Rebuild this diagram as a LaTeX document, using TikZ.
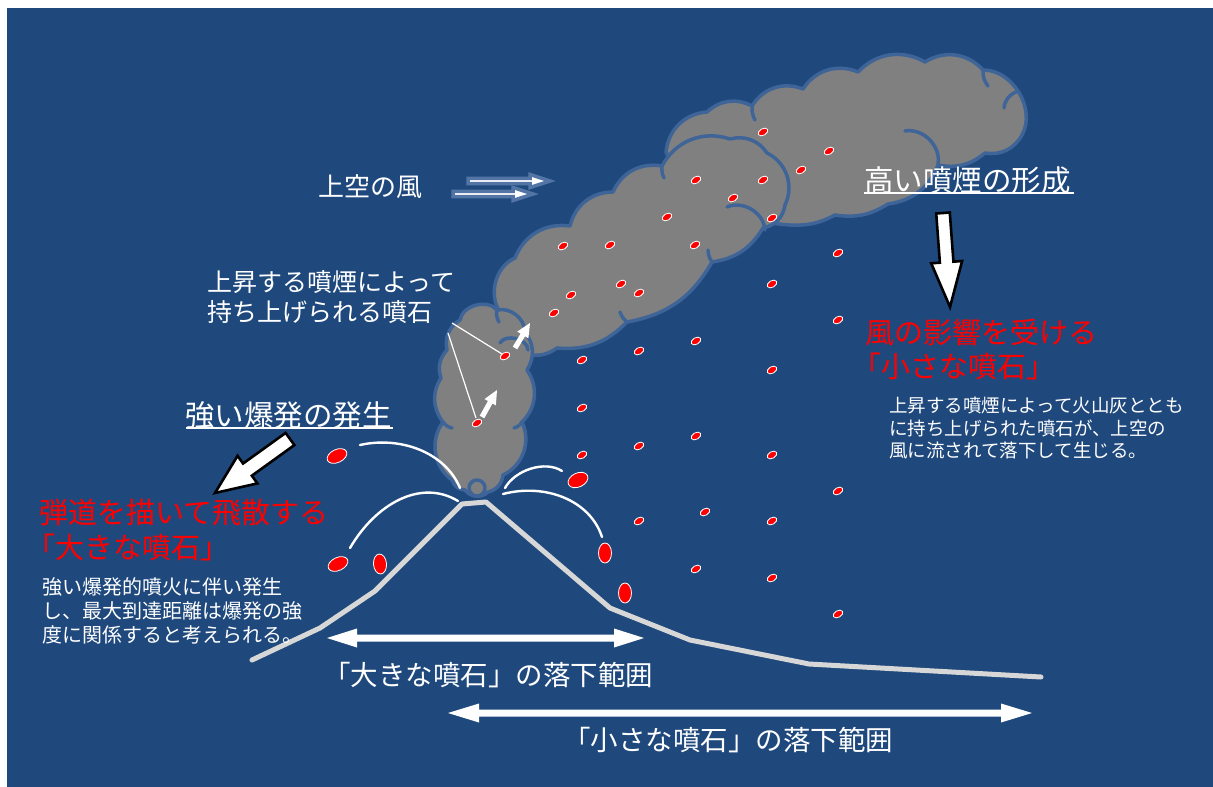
\documentclass[tikz,border=0pt]{standalone}
\usepackage{fontspec}
\newfontfamily\jp{Noto Sans CJK JP}
\usetikzlibrary{arrows.meta}
\definecolor{bgblue}{RGB}{31,73,125}
\definecolor{cloudgray}{RGB}{128,128,128}
\definecolor{cloudline}{RGB}{62,100,152}
\definecolor{slopegray}{RGB}{215,215,215}
\definecolor{windedge}{RGB}{82,117,166}
\definecolor{rockred}{RGB}{255,0,0}
\newcommand\jpsize[2]{\fontsize{#1}{#2}\selectfont}
% block arrow: style, tail point, angle, length, shaft half width, head half width, head length
\newcommand\blockarrow[7]{%
  \path[#1, shift={#2}, rotate=#3]
    (0,#5) -- ({#4-#7},#5) -- ({#4-#7},#6) -- (#4,0) -- ({#4-#7},-#6)
    -- ({#4-#7},-#5) -- (0,-#5) -- cycle;}
\begin{document}
\begin{tikzpicture}[x=1pt,y=-1pt,
  txt/.style={inner sep=0pt, text=white, anchor=west, align=left},
  redtxt/.style={txt, text=rockred},
  cloud/.style={fill=cloudgray, draw=cloudline, line width=3.5pt, line join=round},
  cloudarc/.style={draw=cloudline, line width=3.5pt, line cap=round},
  rock/.style={fill=rockred, draw=white, line width=0.8pt},
  trail/.style={draw=white, line width=2.4pt, line cap=round},
  leader/.style={draw=white, line width=1.2pt},
  slope/.style={draw=slopegray, line width=5pt, line cap=round, line join=round},
  bigarrow/.style={fill=white, draw=black, line width=2.6pt, line join=miter},
  liftarrow/.style={fill=white},
  windarrow/.style={fill=white, draw=windedge, line width=3.5pt, line join=miter},
  rangearrow/.style={fill=white}]
\useasboundingbox (0,0) rectangle (1213,787);
\fill[white] (0,0) rectangle (1213,787);
\fill[bgblue] (7,8) rectangle (1213,787);

% ---- upper plume (rear) ----
\path[cloud] (666,152) to[bend left=40] (707,112) to[bend left=35] (752,106)
  to[bend left=40] (803,89) to[bend left=40] (858,72) to[bend left=38] (925,62)
  to[bend left=40] (983,70) to[bend left=60] (1022,135) to[bend left=35] (985,153)
  to[bend left=25] (938,165) to[bend left=30] (888,204) to[bend left=20] (835,215)
  to[bend left=15] (790,225) to[bend left=15] (730,205) to[bend left=25] (666,152) -- cycle;
\path[cloudarc] (905,131) to[bend left=55] (938,164);
\path[cloudarc] (983,70) to[bend right=20] (988,86);
\path[cloudarc] (1004,108) to[bend left=30] (1016,92);
\path[cloudarc] (752,106) to[bend right=15] (755,120);

% ---- middle plume ----
\path[cloud] (503,316) to[bend left=55] (515,258) to[bend left=38] (570,226)
  to[bend left=38] (613,192) to[bend left=38] (662,166) to[bend left=40] (730,139)
  to[bend left=35] (767,153) to[bend left=45] (785,205) to[bend left=35] (763,228)
  to[bend left=25] (712,262) to[bend left=25] (627,322) to[bend left=25] (557,348)
  to[bend left=20] (530,355) to[bend left=40] (503,316) -- cycle;
\path[cloudarc] (727,207) to[bend left=55] (765,230);
\path[cloudarc] (662,166) to[bend right=15] (664,178);
\path[cloudarc] (712,262) to[bend left=15] (708,250);
\path[cloudarc] (627,322) to[bend left=15] (620,312);

% ---- rising column ----
\path[cloud] (447,350) to[bend left=35] (460,320) to[bend left=65] (497,310)
  to[bend left=50] (525,332) to[bend left=35] (527,370) to[bend left=40] (522,422)
  to[bend left=45] (503,475) to[bend left=35] (488,492) to[bend left=50] (465,490)
  to[bend left=35] (452,480) to[bend left=45] (443,422) to[bend left=35] (441,378)
  to[bend left=30] (447,350) -- cycle;
\path[cloudarc] (500,343) to[bend left=75] (528,350);
\path[cloudarc] (497,310) to[bend right=20] (499,322);
\path[cloudarc] (443,422) to[bend right=20] (452,428);
\path[cloudarc] (522,422) to[bend left=20] (514,428);
\path[cloud] (477,488) circle [radius=8];

% ---- lifted small ejecta ----
\foreach \p in {(763,132),(829,151),(801,170),(696,180),(763,180),(733,198),
  (667,217),(772,218),(563,246),(610,245),(695,245),(838,253),(772,284),
  (621,284),(639,293),(571,295),(554,313),(505,356),(582,360),(639,351),
  (696,341),(772,370),(838,320),(582,408),(696,436),(639,446),(582,455),
  (772,455),(838,491),(705,512),(639,521),(772,521),(696,569),(772,578),
  (838,614),(477,423)}
  \path[rock, shift={\p}, rotate=30] (0,0) ellipse [x radius=5.2, y radius=3.3];

% ---- ballistic blocks ----
\path[rock, shift={(337,456)}, rotate=25] (0,0) ellipse [x radius=10.5, y radius=6.5];
\path[rock, shift={(338,564)}, rotate=25] (0,0) ellipse [x radius=10.5, y radius=6.5];
\path[rock, shift={(380,564)}, rotate=5] (0,0) ellipse [x radius=6.5, y radius=10];
\path[rock, shift={(578,480)}, rotate=25] (0,0) ellipse [x radius=10.5, y radius=7];
\path[rock, shift={(605,553)}] (0,0) ellipse [x radius=6.5, y radius=10];
\path[rock, shift={(625,593)}] (0,0) ellipse [x radius=6.5, y radius=10];

% ---- trajectories ----
\path[trail] (360,445) .. controls (400,436) and (445,452) .. (460,488);
\path[trail] (350,548) .. controls (375,505) and (420,478) .. (458,501);
\path[trail] (505,488) .. controls (515,470) and (545,460) .. (562,471);
\path[trail] (503,494) .. controls (545,483) and (590,500) .. (602,537);

% ---- volcano profile ----
\path[slope] (252,660) -- (320,628) -- (375,591) -- (462,504) -- (486,502)
  -- (610,608) -- (690,640) -- (809,664) -- (1041,677);

% ---- arrows ----
\blockarrow{liftarrow}{(482,417)}{60.95}{30.9}{2.6}{6.5}{14}
\blockarrow{liftarrow}{(515,348)}{59.04}{29.2}{2.6}{6.5}{14}
\blockarrow{windarrow}{(468,181)}{0}{82}{2.6}{6.5}{20}
\blockarrow{windarrow}{(453,194)}{0}{80}{2.6}{6.5}{20}
\blockarrow{bigarrow}{(290,439)}{215.75}{92.4}{7.5}{17}{40}
\blockarrow{bigarrow}{(943,213)}{-85.74}{94.3}{6.8}{15.5}{45}
\path[rangearrow] (327,638) -- (357,628.5) -- (357,634.5) -- (614,634.5) -- (614,628.5)
  -- (644,638) -- (614,647.5) -- (614,641.5) -- (357,641.5) -- (357,647.5) -- cycle;
\path[rangearrow] (448,713) -- (479,703.5) -- (479,709.5) -- (1001,709.5) -- (1001,703.5)
  -- (1032,713) -- (1001,722.5) -- (1001,716.5) -- (479,716.5) -- (479,722.5) -- cycle;

% ---- labels ----
\node[txt, font=\jp\jpsize{26}{30}] (wind) at (318,187) {上空の風};
\node[txt, font=\jp\jpsize{25}{30}] (lift) at (207,297) {上昇する噴煙によって\\持ち上げられる噴石};
\coordinate (lead1) at (452,323);
\coordinate (lead2) at (448,333);
\coordinate (rockA) at (502,354);
\coordinate (rockB) at (476,418);
\path[leader] (lead1) -- (rockA);
\path[leader] (lead2) -- (rockB);

\node[txt, font=\jp\jpsize{29.5}{35}] (expl) at (185,415) {強い爆発の発生};
\draw[white, line width=2.2pt] (186,428) -- (393,428);
\node[txt, font=\jp\jpsize{29.5}{35}] (high) at (864,180) {高い噴煙の形成};
\draw[white, line width=2.2pt] (864,193) -- (1074,193);

\node[redtxt, font=\jp\jpsize{29}{35}] (ballistic) at (39,530)
  {弾道を描いて飛散する\\\hspace*{-0.45em}「大きな噴石」};
\node[txt, font=\jp\jpsize{20}{24}] (ballnote) at (42,611)
  {強い爆発的噴火に伴い発生\\し、最大到達距離は爆発の強\\度に関係すると考えられる。};
\node[redtxt, font=\jp\jpsize{29}{34}] (windrock) at (865,350)
  {風の影響を受ける\\\hspace*{-0.45em}「小さな噴石」};
\node[txt, font=\jp\jpsize{18.5}{22.5}] (windnote) at (889,428)
  {上昇する噴煙によって火山灰ととも\\に持ち上げられた噴石が、上空の\\風に流されて落下して生じる。};

\node[txt, anchor=center, font=\jp\jpsize{27.5}{32}] (range1) at (488,675) {「大きな噴石」の落下範囲};
\node[txt, anchor=center, font=\jp\jpsize{27.5}{32}] (range2) at (728,740) {「小さな噴石」の落下範囲};
\end{tikzpicture}
\end{document}
